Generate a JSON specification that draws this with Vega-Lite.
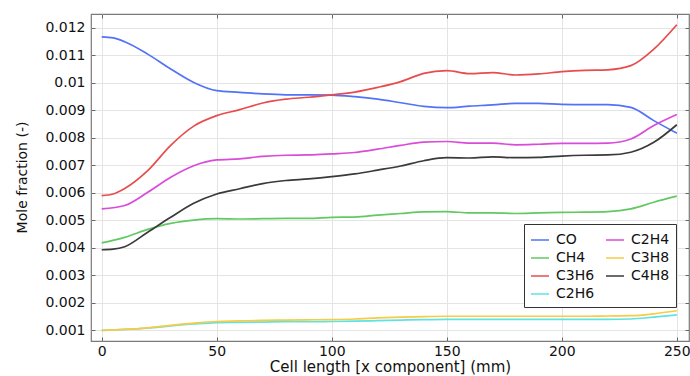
{
  "$schema": "https://vega.github.io/schema/vega-lite/v6.json",
  "width": 598,
  "height": 327,
  "autosize": "none",
  "padding": {"left": 91, "top": 14, "right": 1, "bottom": 35},
  "background": "white",
  "config": {
    "font": "DejaVu Sans",
    "view": {"stroke": "#7a7a7a", "strokeWidth": 1.2},
    "axis": {"labelFont": "DejaVu Sans", "titleFont": "DejaVu Sans", "labelFontSize": 14, "titleFontSize": 14, "labelColor": "#111", "titleColor": "#111", "titleFontWeight": "normal", "gridColor": "#e4e4e4", "gridWidth": 1, "tickColor": "#666", "domain": false}
  },
  "data": {"values": [
    {"s":"CO","x":0,"v":0.01167},{"s":"CO","x":5,"v":0.01163},{"s":"CO","x":10,"v":0.01149},{"s":"CO","x":20,"v":0.01104},{"s":"CO","x":30,"v":0.0105},{"s":"CO","x":40,"v":0.01001},{"s":"CO","x":50,"v":0.00971},{"s":"CO","x":60,"v":0.00965},{"s":"CO","x":70,"v":0.00959},{"s":"CO","x":80,"v":0.00956},{"s":"CO","x":90,"v":0.00956},{"s":"CO","x":100,"v":0.00955},{"s":"CO","x":110,"v":0.00949},{"s":"CO","x":120,"v":0.0094},{"s":"CO","x":130,"v":0.00927},{"s":"CO","x":140,"v":0.00914},{"s":"CO","x":150,"v":0.00909},{"s":"CO","x":160,"v":0.00915},{"s":"CO","x":170,"v":0.00919},{"s":"CO","x":180,"v":0.00925},{"s":"CO","x":190,"v":0.00925},{"s":"CO","x":200,"v":0.00921},{"s":"CO","x":210,"v":0.0092},{"s":"CO","x":220,"v":0.0092},{"s":"CO","x":230,"v":0.0091},{"s":"CO","x":240,"v":0.00862},{"s":"CO","x":250,"v":0.00816},
    {"s":"CH4","x":0,"v":0.00417},{"s":"CH4","x":10,"v":0.00437},{"s":"CH4","x":20,"v":0.00466},{"s":"CH4","x":30,"v":0.00488},{"s":"CH4","x":40,"v":0.005},{"s":"CH4","x":50,"v":0.00505},{"s":"CH4","x":60,"v":0.00504},{"s":"CH4","x":70,"v":0.00505},{"s":"CH4","x":80,"v":0.00506},{"s":"CH4","x":90,"v":0.00506},{"s":"CH4","x":100,"v":0.0051},{"s":"CH4","x":110,"v":0.00511},{"s":"CH4","x":120,"v":0.00518},{"s":"CH4","x":130,"v":0.00524},{"s":"CH4","x":140,"v":0.0053},{"s":"CH4","x":150,"v":0.00531},{"s":"CH4","x":160,"v":0.00526},{"s":"CH4","x":170,"v":0.00526},{"s":"CH4","x":180,"v":0.00524},{"s":"CH4","x":190,"v":0.00526},{"s":"CH4","x":200,"v":0.00528},{"s":"CH4","x":210,"v":0.00529},{"s":"CH4","x":220,"v":0.00531},{"s":"CH4","x":230,"v":0.00541},{"s":"CH4","x":240,"v":0.00565},{"s":"CH4","x":250,"v":0.00587},
    {"s":"C3H6","x":0,"v":0.00589},{"s":"C3H6","x":5,"v":0.00595},{"s":"C3H6","x":10,"v":0.00615},{"s":"C3H6","x":20,"v":0.0068},{"s":"C3H6","x":30,"v":0.00772},{"s":"C3H6","x":40,"v":0.00842},{"s":"C3H6","x":50,"v":0.0088},{"s":"C3H6","x":60,"v":0.00902},{"s":"C3H6","x":70,"v":0.00926},{"s":"C3H6","x":80,"v":0.0094},{"s":"C3H6","x":90,"v":0.00947},{"s":"C3H6","x":100,"v":0.00956},{"s":"C3H6","x":110,"v":0.00966},{"s":"C3H6","x":120,"v":0.00983},{"s":"C3H6","x":130,"v":0.01004},{"s":"C3H6","x":140,"v":0.01034},{"s":"C3H6","x":150,"v":0.01044},{"s":"C3H6","x":160,"v":0.01033},{"s":"C3H6","x":170,"v":0.01037},{"s":"C3H6","x":180,"v":0.01028},{"s":"C3H6","x":190,"v":0.01032},{"s":"C3H6","x":200,"v":0.0104},{"s":"C3H6","x":210,"v":0.01045},{"s":"C3H6","x":220,"v":0.01047},{"s":"C3H6","x":230,"v":0.01062},{"s":"C3H6","x":240,"v":0.01122},{"s":"C3H6","x":250,"v":0.01211},
    {"s":"C2H6","x":0,"v":0.00099},{"s":"C2H6","x":10,"v":0.00102},{"s":"C2H6","x":20,"v":0.00107},{"s":"C2H6","x":30,"v":0.00115},{"s":"C2H6","x":40,"v":0.00122},{"s":"C2H6","x":50,"v":0.00127},{"s":"C2H6","x":60,"v":0.00128},{"s":"C2H6","x":70,"v":0.00129},{"s":"C2H6","x":80,"v":0.0013},{"s":"C2H6","x":90,"v":0.0013},{"s":"C2H6","x":100,"v":0.00131},{"s":"C2H6","x":110,"v":0.00132},{"s":"C2H6","x":120,"v":0.00134},{"s":"C2H6","x":130,"v":0.00136},{"s":"C2H6","x":140,"v":0.00138},{"s":"C2H6","x":150,"v":0.00139},{"s":"C2H6","x":160,"v":0.00139},{"s":"C2H6","x":170,"v":0.00139},{"s":"C2H6","x":180,"v":0.00139},{"s":"C2H6","x":190,"v":0.00139},{"s":"C2H6","x":200,"v":0.00139},{"s":"C2H6","x":210,"v":0.00139},{"s":"C2H6","x":220,"v":0.00139},{"s":"C2H6","x":230,"v":0.0014},{"s":"C2H6","x":240,"v":0.00147},{"s":"C2H6","x":250,"v":0.00155},
    {"s":"C2H4","x":0,"v":0.00541},{"s":"C2H4","x":10,"v":0.00553},{"s":"C2H4","x":20,"v":0.00601},{"s":"C2H4","x":30,"v":0.00656},{"s":"C2H4","x":40,"v":0.00698},{"s":"C2H4","x":50,"v":0.00719},{"s":"C2H4","x":60,"v":0.00723},{"s":"C2H4","x":70,"v":0.00732},{"s":"C2H4","x":80,"v":0.00736},{"s":"C2H4","x":90,"v":0.00737},{"s":"C2H4","x":100,"v":0.00741},{"s":"C2H4","x":110,"v":0.00746},{"s":"C2H4","x":120,"v":0.00758},{"s":"C2H4","x":130,"v":0.00772},{"s":"C2H4","x":140,"v":0.00784},{"s":"C2H4","x":150,"v":0.00786},{"s":"C2H4","x":160,"v":0.0078},{"s":"C2H4","x":170,"v":0.0078},{"s":"C2H4","x":180,"v":0.00774},{"s":"C2H4","x":190,"v":0.00776},{"s":"C2H4","x":200,"v":0.00779},{"s":"C2H4","x":210,"v":0.00779},{"s":"C2H4","x":220,"v":0.0078},{"s":"C2H4","x":230,"v":0.00795},{"s":"C2H4","x":240,"v":0.00844},{"s":"C2H4","x":250,"v":0.00884},
    {"s":"C3H8","x":0,"v":0.00099},{"s":"C3H8","x":10,"v":0.00102},{"s":"C3H8","x":20,"v":0.00108},{"s":"C3H8","x":30,"v":0.00117},{"s":"C3H8","x":40,"v":0.00125},{"s":"C3H8","x":50,"v":0.00131},{"s":"C3H8","x":60,"v":0.00133},{"s":"C3H8","x":70,"v":0.00135},{"s":"C3H8","x":80,"v":0.00136},{"s":"C3H8","x":90,"v":0.00137},{"s":"C3H8","x":100,"v":0.00138},{"s":"C3H8","x":110,"v":0.0014},{"s":"C3H8","x":120,"v":0.00144},{"s":"C3H8","x":130,"v":0.00147},{"s":"C3H8","x":140,"v":0.00149},{"s":"C3H8","x":150,"v":0.0015},{"s":"C3H8","x":160,"v":0.0015},{"s":"C3H8","x":170,"v":0.0015},{"s":"C3H8","x":180,"v":0.0015},{"s":"C3H8","x":190,"v":0.0015},{"s":"C3H8","x":200,"v":0.0015},{"s":"C3H8","x":210,"v":0.0015},{"s":"C3H8","x":220,"v":0.00151},{"s":"C3H8","x":230,"v":0.00152},{"s":"C3H8","x":240,"v":0.00159},{"s":"C3H8","x":250,"v":0.0017},
    {"s":"C4H8","x":0,"v":0.00392},{"s":"C4H8","x":5,"v":0.00394},{"s":"C4H8","x":10,"v":0.00403},{"s":"C4H8","x":20,"v":0.00456},{"s":"C4H8","x":30,"v":0.0051},{"s":"C4H8","x":40,"v":0.00561},{"s":"C4H8","x":50,"v":0.00595},{"s":"C4H8","x":60,"v":0.00614},{"s":"C4H8","x":70,"v":0.00633},{"s":"C4H8","x":80,"v":0.00644},{"s":"C4H8","x":90,"v":0.0065},{"s":"C4H8","x":100,"v":0.00658},{"s":"C4H8","x":110,"v":0.00668},{"s":"C4H8","x":120,"v":0.00682},{"s":"C4H8","x":130,"v":0.00697},{"s":"C4H8","x":140,"v":0.00716},{"s":"C4H8","x":150,"v":0.00727},{"s":"C4H8","x":160,"v":0.00726},{"s":"C4H8","x":170,"v":0.0073},{"s":"C4H8","x":180,"v":0.00727},{"s":"C4H8","x":190,"v":0.00728},{"s":"C4H8","x":200,"v":0.00733},{"s":"C4H8","x":210,"v":0.00736},{"s":"C4H8","x":220,"v":0.00737},{"s":"C4H8","x":230,"v":0.00747},{"s":"C4H8","x":240,"v":0.00783},{"s":"C4H8","x":250,"v":0.00847}
  ]},
  "layer": [
    {
      "mark": {"type": "line", "interpolate": "monotone", "strokeWidth": 1.7, "clip": true},
      "encoding": {
        "x": {"field": "x", "type": "quantitative", "scale": {"domain": [-4.65, 255.3], "nice": false, "zero": false},
          "axis": {"values": [0, 50, 100, 150, 200, 250], "title": "Cell length [x component] (mm)", "titleFontSize": 15, "tickSize": -4, "labelPadding": 7, "titlePadding": 0, "titleY": 25, "titleBaseline": "middle", "grid": true}},
        "y": {"field": "v", "type": "quantitative", "scale": {"domain": [0.0006, 0.0125], "nice": false, "zero": false},
          "axis": {"values": [0.001, 0.002, 0.003, 0.004, 0.005, 0.006, 0.007, 0.008, 0.009, 0.01, 0.011, 0.012], "format": "~g", "title": "Mole fraction (-)", "tickSize": -4, "labelPadding": 10, "titleX": -69, "titleY": 163, "titleAngle": -90, "titleAlign": "center", "titleBaseline": "middle", "grid": true}},
        "color": {"field": "s", "type": "nominal",
          "scale": {"domain": ["CO", "CH4", "C3H6", "C2H6", "C2H4", "C3H8", "C4H8"], "range": ["#5272f7", "#62c962", "#e84c4c", "#5ee3e3", "#d94cd9", "#f7cb45", "#3a3a3a"]},
          "legend": {"title": null, "orient": "none", "legendX": 433, "legendY": 210, "columns": 2, "symbolType": "stroke", "symbolSize": 324, "symbolStrokeWidth": 1.5, "labelFontSize": 14, "labelFont": "DejaVu Sans", "labelColor": "#111", "columnPadding": 8, "rowPadding": 1, "padding": 6, "strokeColor": "#333", "fillColor": "white", "labelOffset": 6}}
      }
    },
    {
      "mark": {"type": "point", "opacity": 0},
      "encoding": {
        "x": {"field": "x", "type": "quantitative", "scale": {"domain": [-4.65, 255.3], "nice": false, "zero": false},
          "axis": {"orient": "top", "values": [0, 50, 100, 150, 200, 250], "labels": false, "title": null, "tickSize": -4, "grid": false}},
        "y": {"field": "v", "type": "quantitative", "scale": {"domain": [0.0006, 0.0125], "nice": false, "zero": false},
          "axis": {"orient": "right", "values": [0.001, 0.002, 0.003, 0.004, 0.005, 0.006, 0.007, 0.008, 0.009, 0.01, 0.011, 0.012], "labels": false, "title": null, "tickSize": -4, "grid": false}}
      }
    }
  ],
  "resolve": {"axis": {"x": "independent", "y": "independent"}}
}
